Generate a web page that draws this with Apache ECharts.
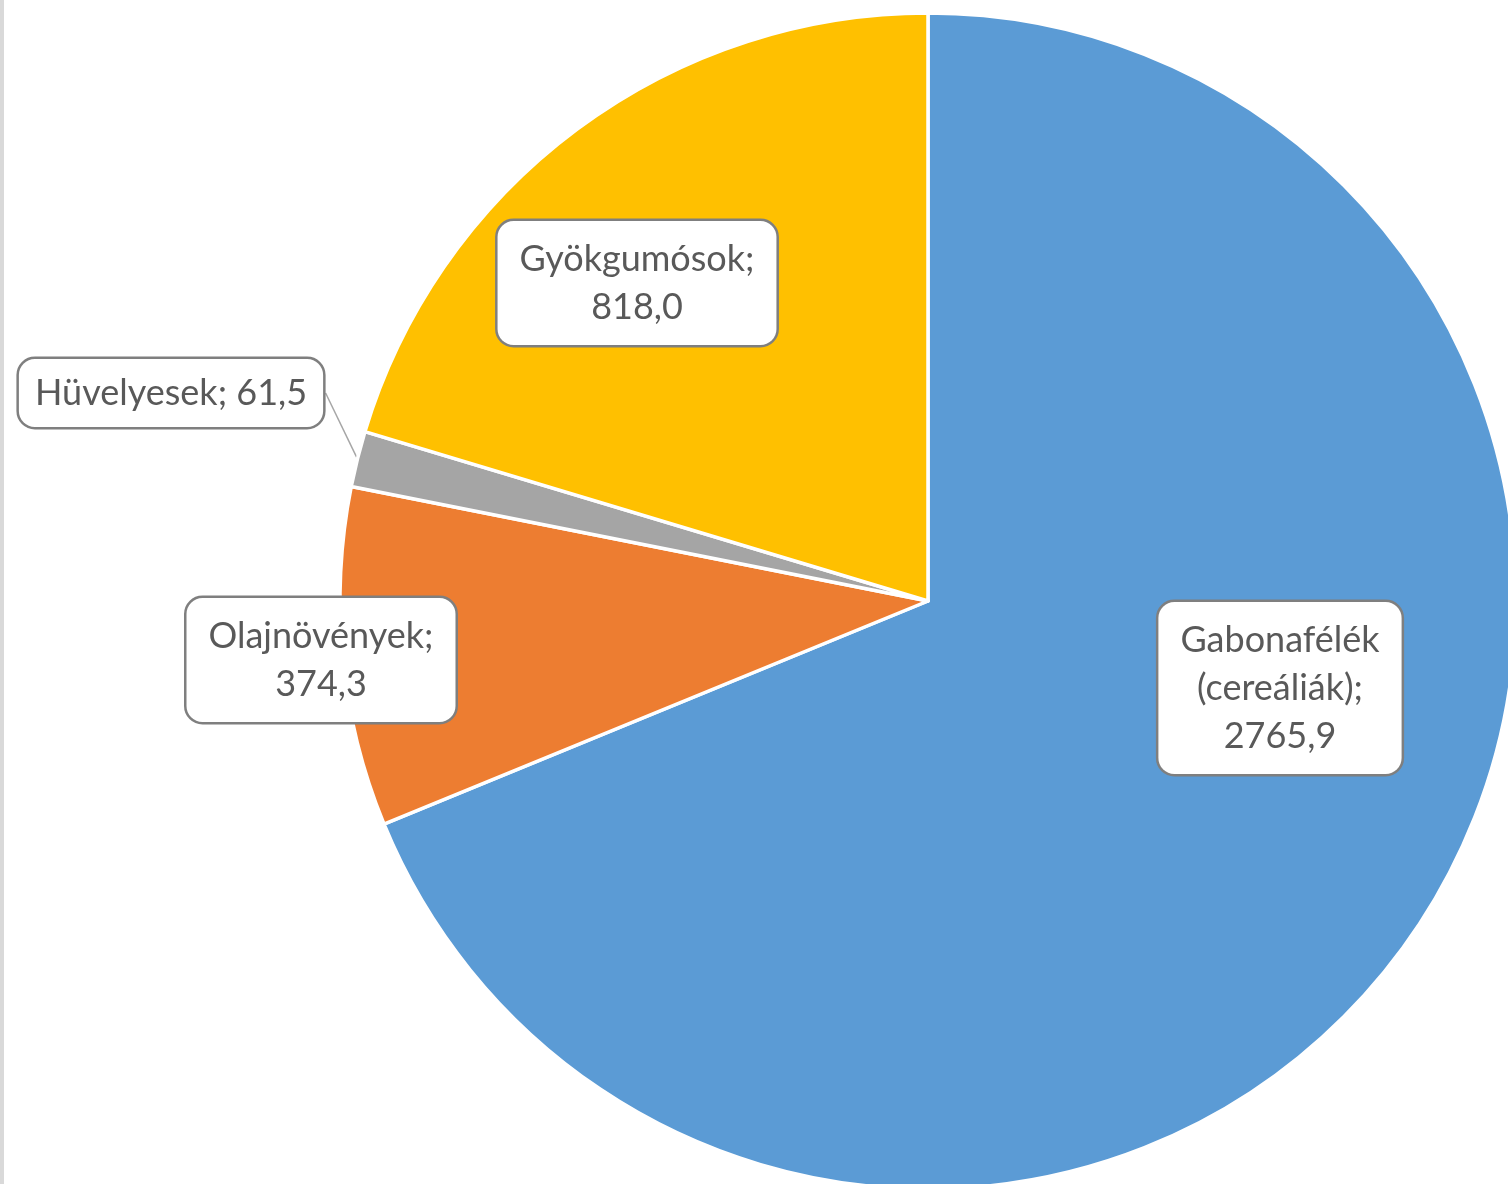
<!DOCTYPE html>
<html>
<head>
<meta charset="utf-8">
<script src="https://cdn.jsdelivr.net/npm/echarts@6/dist/echarts.min.js"></script>
<style>
  html, body { margin: 0; padding: 0; background: #fff; }
  #chart { width: 1508px; height: 1184px; box-sizing: border-box; border-left: 4px solid #d9d9d9; }
</style>
</head>
<body>
<div id="chart"></div>
<script>
// adatok
const categories = ['Gabonafélék (cereáliák)', 'Olajnövények', 'Hüvelyesek', 'Gyökgumósok']
const values = [2765.9, 374.3, 61.5, 818.0]
const colors = ['#5b9bd5', '#ed7d31', '#a5a5a5', '#ffc000']

// címkék helye (doboz közepe, px)
const labelPos = [
  [1276, 688],
  [317, 660],
  [167, 393],
  [633, 283],
]

function fmt(v) {
  return v.toFixed(1).replace('.', ',')
}

let myChart = echarts.init(document.getElementById('chart'))

let options = {
  animation: false,
  series: [
    {
      type: 'pie',
      center: [924, 601],
      radius: 588,
      startAngle: 90,
      clockwise: true,
      itemStyle: {
        borderColor: '#fff',
        borderWidth: 3.5,
      },
      label: {
        show: true,
        position: 'inside',
        color: '#595959',
        fontFamily: 'Lato',
        fontSize: 36,
        lineHeight: 48,
        backgroundColor: '#fff',
        borderColor: '#7f7f7f',
        borderWidth: 2.5,
        borderRadius: 16,
        padding: [14, 22, 14, 22],
        formatter: (p) =>
          p.name.replace(' (', '\n(') + ';\n' + fmt(p.value),
      },
      labelLine: {
        show: false,
      },
      labelLayout: (params) => ({
        x: labelPos[params.dataIndex][0],
        y: labelPos[params.dataIndex][1],
        align: 'center',
        verticalAlign: 'middle',
      }),
      data: categories.map((name, i) => {
        let item = { name: name, value: values[i], itemStyle: { color: colors[i] } }
        if (name === 'Hüvelyesek') {
          item.label = {
            position: 'outside',
            padding: [10, 16, 10, 16],
            formatter: (p) => p.name + '; ' + fmt(p.value),
          }
          item.labelLine = {
            show: true,
            length: 10,
            length2: 0,
            lineStyle: { color: '#a6a6a6', width: 1.5 },
          }
        }
        return item
      }),
    },
  ],
}

myChart.setOption(options)
</script>
</body>
</html>
